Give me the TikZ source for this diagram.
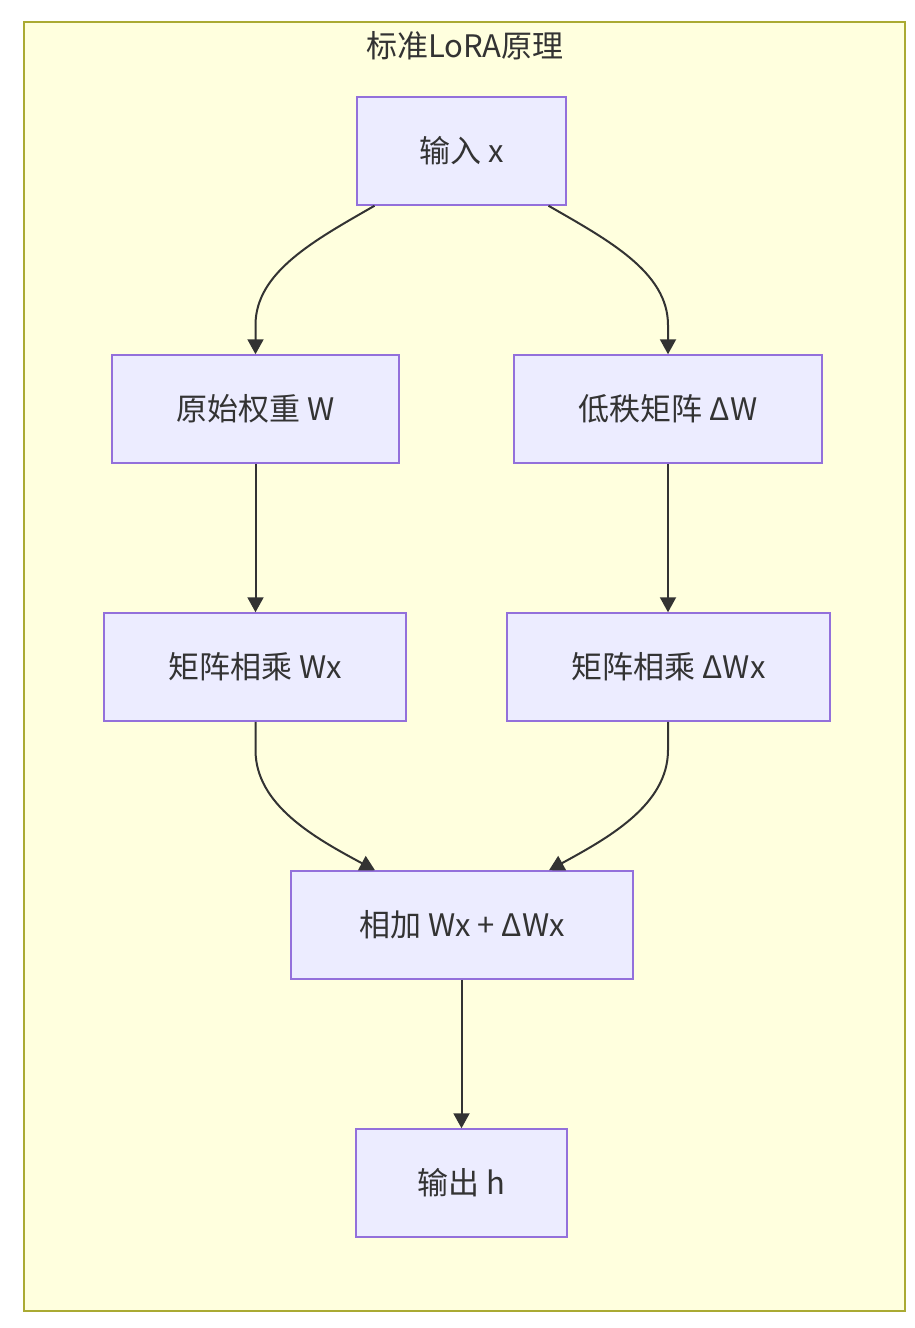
\documentclass[tikz,border=0pt]{standalone}
\usepackage{fontspec}
\setmainfont{Noto Sans CJK SC}
\usetikzlibrary{arrows.meta}
\definecolor{nodefill}{HTML}{ECECFF}
\definecolor{nodeborder}{HTML}{9370DB}
\definecolor{clusterfill}{HTML}{FFFFDE}
\definecolor{clusterborder}{HTML}{AAAA33}
\definecolor{linecol}{HTML}{333333}
\begin{document}
\begin{tikzpicture}[x=1pt,y=-1pt,
  box/.style={draw=nodeborder,fill=nodefill,line width=1.5pt,text=linecol,
    font=\fontsize{31}{36}\selectfont,inner sep=0pt,anchor=center},
  conn/.style={draw=linecol,line width=2pt,-{Triangle[length=15pt,width=16pt]}}]
\useasboundingbox (0,0) rectangle (914,1328);
\fill[white] (0,0) rectangle (914,1328);
\draw[clusterborder,fill=clusterfill,line width=1.5pt] (24,22) rectangle (905,1311);
\node[text=linecol,font=\fontsize{31}{36}\selectfont] (title) at (465,46) {标准LoRA原理};
\node[box,minimum width=209pt,minimum height=108pt] (in) at (461.5,151) {输入 x};
\node[box,minimum width=287pt,minimum height=108pt] (w) at (255.5,409) {原始权重 W};
\node[box,minimum width=308pt,minimum height=108pt] (dw) at (668,409) {低秩矩阵 ΔW};
\node[box,minimum width=302pt,minimum height=108pt] (wx) at (255,667) {矩阵相乘 Wx};
\node[box,minimum width=323pt,minimum height=108pt] (dwx) at (668.5,667) {矩阵相乘 ΔWx};
\node[box,minimum width=342pt,minimum height=108pt] (add) at (462,925) {相加 Wx + ΔWx};
\node[box,minimum width=211pt,minimum height=108pt] (out) at (461.5,1183) {输出 h};
\coordinate (a1) at ([xshift=-87pt]in.south);
\coordinate (a2) at ([xshift=87pt]in.south);
\coordinate (b1) at ([xshift=-87pt]add.north);
\coordinate (b2) at ([xshift=87pt]add.north);
\draw[conn] (a1) .. controls (315,240) and (255.5,272) .. (255.5,325) -- (w.north);
\draw[conn] (a2) .. controls (608,240) and (668,272) .. (668,325) -- (dw.north);
\draw[conn] (w.south |- wx.south) -- (255.5,750) .. controls (255.5,805) and (315,838) .. (b1);
\draw[conn] (dw.south |- dwx.south) -- (668,750) .. controls (668,805) and (608,838) .. (b2);
\draw[conn] (w.south) -- (w.south |- wx.north);
\draw[conn] (dw.south) -- (dw.south |- dwx.north);
\draw[conn] (out.north |- add.south) -- (out.north);
\end{tikzpicture}
\end{document}
